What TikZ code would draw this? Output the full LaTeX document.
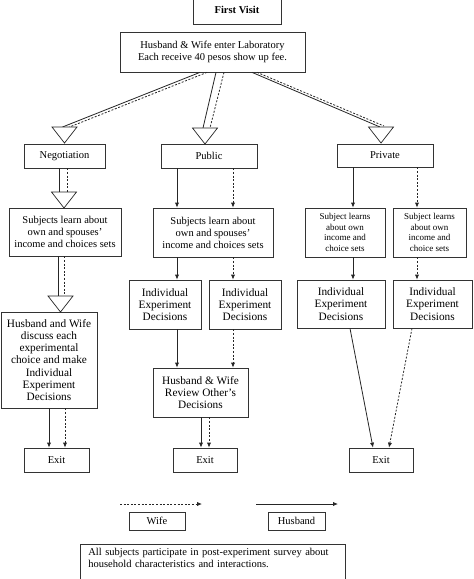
\documentclass[tikz,border=0pt]{standalone}
\usepackage{fontspec}
\setmainfont{Liberation Serif}
\usetikzlibrary{arrows.meta,calc}
\begin{document}
\begin{tikzpicture}[x=1pt,y=-1pt,
  box/.style={draw=black!80, line width=0.7pt, align=center, inner sep=0pt, font=\fontsize{10.5}{12}\selectfont},
  bigtxt/.style={font=\fontsize{11.3}{12.3}\selectfont},
  smalltxt/.style={font=\fontsize{9}{10.6}\selectfont},
  tip/.style={-{Latex[length=5pt,width=4.2pt]}},
  hus/.style={draw=black!85, line width=0.8pt},
  wif/.style={draw=black!85, line width=0.8pt, dash pattern=on 2pt off 1.6pt},
  tri/.style={draw=black!85, line width=0.7pt, fill=white}]
\useasboundingbox[fill=white] (0,0) rectangle (474,579);

% boxes
\node[box, minimum width=88, minimum height=28] (fv) at (237,10) {\bfseries First Visit};
\node[box, minimum width=185, minimum height=40] (hw) at (212.5,52) {Husband \& Wife enter Laboratory\\Each receive 40 pesos show up fee.};
\node[box, minimum width=81, minimum height=24] (neg) at (64.5,156) {Negotiation};
\node[box, minimum width=96, minimum height=24] (pub) at (209,156) {Public};
\node[box, minimum width=96, minimum height=23] (priv) at (385,155.5) {Private};
\node[box, minimum width=112, minimum height=48] (s1) at (65,232) {Subjects learn about\\own and spouses'\\income and choices sets};
\node[box, minimum width=120, minimum height=49] (s2) at (213,232.5) {Subjects learn about\\own and spouses'\\income and choices sets};
\node[box, smalltxt, minimum width=80, minimum height=49] (s3) at (345,232.5) {Subject learns\\about own\\income and\\choice sets};
\node[box, smalltxt, minimum width=73, minimum height=49] (s4) at (429.5,232.5) {Subject learns\\about own\\income and\\choice sets};
\node[box, bigtxt, minimum width=96, minimum height=96] (hwd) at (49,360) {Husband and Wife\\discuss each\\experimental\\choice and make\\Individual\\Experiment\\Decisions};
\node[box, bigtxt, minimum width=72, minimum height=49] (i1) at (165,304.5) {Individual\\Experiment\\Decisions};
\node[box, bigtxt, minimum width=72, minimum height=49] (i2) at (245,304.5) {Individual\\Experiment\\Decisions};
\node[box, bigtxt, minimum width=88, minimum height=48] (i3) at (341,304) {Individual\\Experiment\\Decisions};
\node[box, bigtxt, minimum width=79, minimum height=48] (i4) at (432.5,304) {Individual\\Experiment\\Decisions};
\node[box, bigtxt, minimum width=95, minimum height=49] (rev) at (200.5,392.5) {Husband \& Wife\\Review Other's\\Decisions};
\node[box, minimum width=65, minimum height=24] (e1) at (56.5,460) {Exit};
\node[box, minimum width=64, minimum height=24] (e2) at (205,460) {Exit};
\node[box, minimum width=64, minimum height=24] (e3) at (381,460) {Exit};
\node[box, minimum width=56, minimum height=18] (wife) at (157,521) {Wife};
\node[box, minimum width=57, minimum height=18] (husb) at (296.5,521) {Husband};
\node[box, anchor=north west, align=left, text width=249, inner xsep=8, inner ysep=4] (survey) at (80,544)
  {All subjects participate in post-experiment survey about\\household characteristics and interactions.\\ \mbox{}};

% column coordinates
\coordinate (t1) at (64.5,127);
\coordinate (t2) at (205,128);
\coordinate (t3) at (381,127);
\coordinate (t4) at (64,192);
\coordinate (t5) at (60.5,296);
\foreach \c in {49,58,59,64,65,67,177,201,209,233,353,417}{\coordinate (c\c) at (\c,0);}
\coordinate (hwA) at (200,0);\coordinate (hwB) at (207,0);
\coordinate (hwC) at (216,0);\coordinate (hwD) at (224,0);
\coordinate (hwE) at (252,0);\coordinate (hwF) at (257,0);
\coordinate (wa) at (120,504);\coordinate (wb) at (202,504);
\coordinate (ha) at (256,504);\coordinate (hb) at (338,504);

% big open arrows from laboratory
\draw[hus] (hw.south -| hwA) -- ($(t1)+(-2,0)$);
\draw[wif] (hw.south -| hwB) -- ($(t1)+(5,0)$);
\draw[hus] (hw.south -| hwC) -- ($(t2)+(-2,0)$);
\draw[wif] (hw.south -| hwD) -- ($(t2)+(5,0)$);
\draw[hus] (hw.south -| hwE) -- ($(t3)+(-1,0)$);
\draw[wif] (hw.south -| hwF) -- ($(t3)+(3,-1)$);
\draw[hus] (neg.south -| c59) -- (t4 -| c59);
\draw[wif] (neg.south -| c67) -- (t4 -| c67);
\draw[hus] (s1.south -| c58) -- (t5 -| c58);
\draw[wif] (s1.south -| c64) -- (t5 -| c64);
\foreach \t in {t1,t2,t3,t4,t5}{\draw[tri] (\t) ++(-12.5,0) -- ++(25,0) -- ++(-12.5,16) -- cycle;}

% negotiation exit
\draw[hus,tip] (hwd.south -| c49) -- (e1.north -| c49);
\draw[wif,tip] (hwd.south -| c65) -- (e1.north -| c65);

% public
\draw[hus,tip] (pub.south -| c177) -- (s2.north -| c177);
\draw[wif,tip] (pub.south -| c233) -- (s2.north -| c233);
\draw[hus,tip] (s2.south -| c177) -- (i1.north -| c177);
\draw[wif,tip] (s2.south -| c233) -- (i2.north -| c233);
\draw[hus,tip] (i1.south -| c177) -- (rev.north -| c177);
\draw[wif,tip] (i2.south -| c233) -- (rev.north -| c233);
\draw[hus,tip] (rev.south -| c201) -- (e2.north -| c201);
\draw[wif,tip] (rev.south -| c209) -- (e2.north -| c209);

% private
\draw[hus,tip] (priv.south -| c353) -- (s3.north -| c353);
\draw[wif,tip] (priv.south -| c417) -- (s4.north -| c417);
\draw[hus,tip] (s3.south -| c353) -- (i3.north -| c353);
\draw[wif,tip] (s4.south -| c417) -- (i4.north -| c417);
\draw[hus,tip] ([xshift=9]i3.south) -- ([xshift=-8]e3.north);
\draw[wif,tip] ([xshift=-20.5]i4.south) -- ([xshift=8]e3.north);

% legend
\draw[wif,tip] (wa) -- (wb);
\draw[hus,tip] (ha) -- (hb);
\end{tikzpicture}
\end{document}
